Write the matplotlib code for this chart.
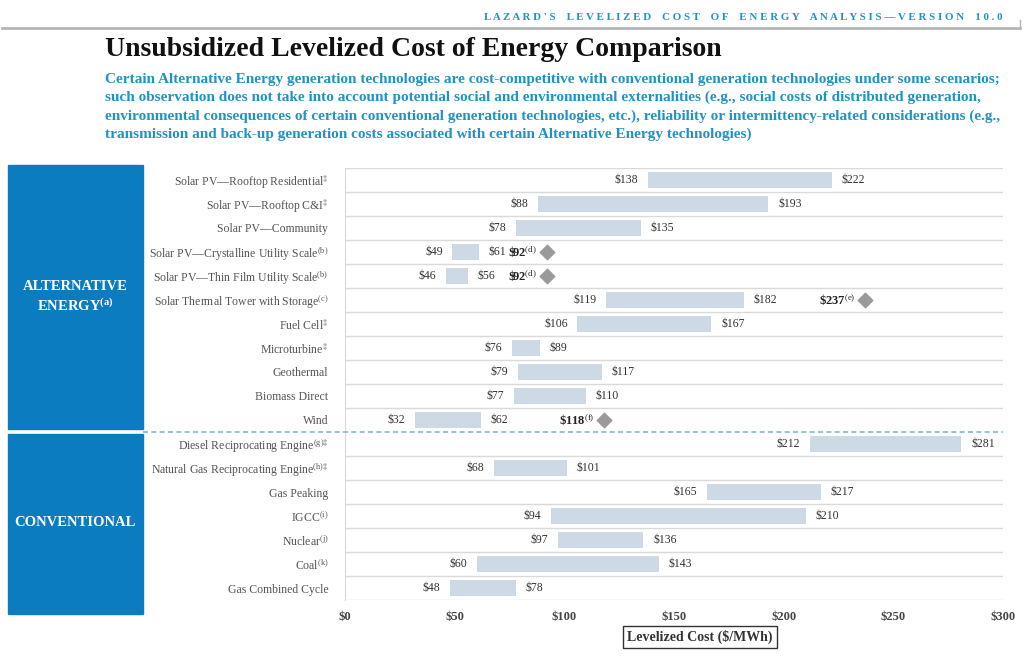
import numpy as np
import matplotlib
matplotlib.use("Agg")
import matplotlib.pyplot as plt
from matplotlib.lines import Line2D
from matplotlib.patches import Rectangle

plt.rcParams["font.family"] = ["Liberation Serif", "DejaVu Serif"]
plt.rcParams["mathtext.fontset"] = "custom"
plt.rcParams["mathtext.rm"] = "Liberation Serif"
plt.rcParams["mathtext.it"] = "Liberation Serif:italic"
plt.rcParams["mathtext.bf"] = "Liberation Serif:bold"

# -----------------------
# Data
# -----------------------
technologies = [
    "Solar PV\u2014Rooftop Residential",
    "Solar PV\u2014Rooftop C&I",
    "Solar PV\u2014Community",
    "Solar PV\u2014Crystalline Utility Scale",
    "Solar PV\u2014Thin Film Utility Scale",
    "Solar Thermal Tower with Storage",
    "Fuel Cell",
    "Microturbine",
    "Geothermal",
    "Biomass Direct",
    "Wind",
    "Diesel Reciprocating Engine",
    "Natural Gas Reciprocating Engine",
    "Gas Peaking",
    "IGCC",
    "Nuclear",
    "Coal",
    "Gas Combined Cycle",
]
footnotes = ["\u2021", "\u2021", "", "(b)", "(b)", "(c)", "\u2021", "\u2021", "", "", "",
             "(g)\u2021", "(h)\u2021", "", "(i)", "(j)", "(k)", ""]
low_cost = [138, 88, 78, 49, 46, 119, 106, 76, 79, 77, 32, 212, 68, 165, 94, 97, 60, 48]
high_cost = [222, 193, 135, 61, 56, 182, 167, 89, 117, 110, 62, 281, 101, 217, 210, 136, 143, 78]

marker_rows = [3, 4, 5, 10]
marker_cost = [92, 92, 237, 118]
marker_notes = ["(d)", "(d)", "(e)", "(f)"]

x_ticks = [0, 50, 100, 150, 200, 250, 300]

N_ALT = 11

BAR_COLOR = "#cddae6"
BOX_BLUE = "#0c7cc0"
TEAL = "#1f93c5"
GRID = "#d9d9d9"

# -----------------------
# Figure
# -----------------------
W, H = 1024, 659
fig = plt.figure(figsize=(W / 100, H / 100), dpi=100)


def fx(px):
    return px / W


def fy(py):
    return 1 - py / H


ax = fig.add_axes([fx(345), fy(600), fx(1003) - fx(345), fy(168) - fy(600)])

y = np.arange(len(technologies))
widths = np.array(high_cost) - np.array(low_cost)
ax.barh(y, widths, left=low_cost, height=0.67, color=BAR_COLOR, zorder=2)

# row separators
sep = np.arange(-0.5, len(technologies))
sep = sep[sep != N_ALT - 0.5]
ax.hlines(sep, 0, 300, color=GRID, lw=1, zorder=1)

# dashed split between the two groups
ax.axhline(N_ALT - 0.5, xmin=(143 - 345) / 658, xmax=1, color="#7fb8d6",
           lw=1.2, ls=(0, (3, 2)), clip_on=False, zorder=3)

# value labels
for i in range(len(technologies)):
    ax.annotate(f"${low_cost[i]}", (low_cost[i], i), xytext=(-7, 0),
                textcoords="offset points", ha="right", va="center",
                fontsize=8.5, color="#333333")
    ax.annotate(f"${high_cost[i]}", (high_cost[i], i), xytext=(7, 0),
                textcoords="offset points", ha="left", va="center",
                fontsize=8.5, color="#333333")

# diamond markers with bold labels
ax.scatter(marker_cost, marker_rows, marker="D", s=55, color="#9a9a9a", zorder=4)
for r, v, n in zip(marker_rows, marker_cost, marker_notes):
    ax.annotate(f"\\${v}" + r"$^{\mathrm{" + n + "}}$", (v, r), xytext=(-7, 0),
                textcoords="offset points", ha="right", va="center",
                fontsize=9, fontweight="bold", color="#222222")

ax.set_xlim(0, 300)
ax.set_ylim(len(technologies) - 0.5, -0.5)

ax.set_yticks(y)
ax.set_yticklabels(
    [t + (r"$^{\mathrm{" + n + "}}$" if n else "") for t, n in zip(technologies, footnotes)],
    fontsize=8.5, color="#555555")
ax.set_xticks(x_ticks)
ax.set_xticklabels([f"${v}" for v in x_ticks], fontsize=9, fontweight="bold",
                   color="#444444")
ax.tick_params(axis="both", length=0)
ax.tick_params(axis="y", pad=12)
ax.tick_params(axis="x", pad=8)

for s in ["top", "right", "bottom"]:
    ax.spines[s].set_visible(False)
ax.spines["left"].set_color(GRID)

ax.text((700 - 345) / 658, (600 - 637) / 432, "Levelized Cost ($/MWh)",
        transform=ax.transAxes, ha="center", va="center", fontsize=10,
        fontweight="bold", color="#333333",
        bbox=dict(boxstyle="square,pad=0.3", fc="white", ec="#333333", lw=1))

# -----------------------
# Group boxes on the left
# -----------------------
fig.add_artist(Rectangle((fx(8), fy(429)), fx(143) - fx(8), fy(165) - fy(429),
                         transform=fig.transFigure, color=BOX_BLUE))
fig.add_artist(Rectangle((fx(8), fy(614)), fx(143) - fx(8), fy(434) - fy(614),
                         transform=fig.transFigure, color=BOX_BLUE))
fig.text(fx(75), fy(297), "ALTERNATIVE\nENERGY" + r"$^{\mathbf{(a)}}$", ha="center",
         va="center", fontsize=10.5, fontweight="bold", color="white",
         linespacing=1.3)
fig.text(fx(75), fy(522), "CONVENTIONAL", ha="center", va="center",
         fontsize=10.5, fontweight="bold", color="white")

# -----------------------
# Header and titles
# -----------------------
header = "LAZARD'S LEVELIZED COST OF ENERGY ANALYSIS\u2014VERSION 10.0"
fig.text(fx(1002), fy(17), " ".join(header).replace("   ", "    "), ha="right",
         va="center", fontsize=7.9, fontweight="bold", color=TEAL)
fig.add_artist(Line2D([fx(2), fx(1020)], [fy(28), fy(28)], color="#b5b5b5", lw=2,
                      transform=fig.transFigure))
fig.add_artist(Line2D([fx(1020), fx(1020)], [fy(28), fy(20)], color="#b5b5b5", lw=1,
                      transform=fig.transFigure))

fig.text(fx(105), fy(49), "Unsubsidized Levelized Cost of Energy Comparison",
         ha="left", va="center", fontsize=20, fontweight="bold", color="#111111")

subtitle = (
    "Certain Alternative Energy generation technologies are cost-competitive with conventional generation technologies under some scenarios;\n"
    "such observation does not take into account potential social and environmental externalities (e.g., social costs of distributed generation,\n"
    "environmental consequences of certain conventional generation technologies, etc.), reliability or intermittency-related considerations (e.g.,\n"
    "transmission and back-up generation costs associated with certain Alternative Energy technologies)"
)
fig.text(fx(105), fy(107), subtitle, ha="left", va="center", fontsize=11,
         fontweight="bold", color=TEAL, linespacing=1.5)

fig.savefig("out.png", dpi=100)
